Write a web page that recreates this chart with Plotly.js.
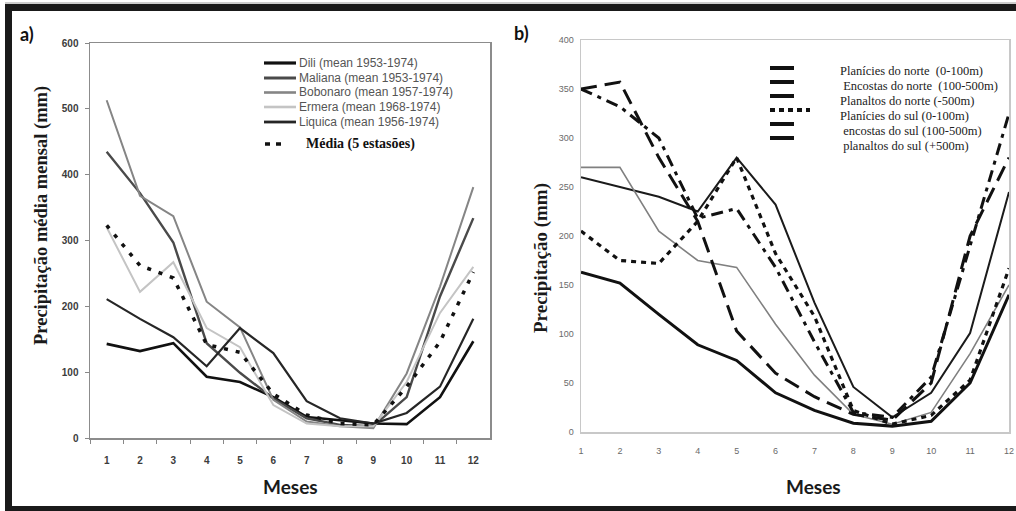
<!DOCTYPE html>
<html><head><meta charset="utf-8">
<script src="https://cdn.plot.ly/plotly-3.0.1.min.js"></script>
<style>html,body{margin:0;padding:0;background:#fff}#chart{width:1016px;height:511px}</style>
</head><body><div id="chart"></div>
<script>
// ---------- data ----------
const months = [1,2,3,4,5,6,7,8,9,10,11,12];
const monthLabels = months.map(String);

// panel a) – stations
const namesA = ["Dili (mean 1953-1974)","Maliana (mean 1953-1974)","Bobonaro (mean 1957-1974)","Ermera (mean 1968-1974)","Liquica (mean 1956-1974)","Média (5 estasões)"];
const dili     = [143, 132, 144,  93,  85,  62,  32,  27,  22,  21,  62, 147];
const maliana  = [435, 372, 297, 144,  99,  60,  30,  20,  18,  62, 215, 334];
const bobonaro = [513, 368, 337, 207, 168,  58,  25,  18,  15,  98, 230, 381];
const ermera   = [320, 222, 267, 167, 138,  50,  22,  18,  18,  85, 190, 260];
const liquica  = [211, 181, 153, 109, 167, 129,  56,  30,  22,  38,  78, 181];
const media    = [323, 262, 243, 142, 130,  67,  35,  22,  20,  78, 146, 252];

// panel b) – regions
const namesB = ["Planícies do norte  (0-100m)"," Encostas do norte  (100-500m)","Planaltos do norte (-500m)","Planícies do sul (0-100m)"," encostas do sul (100-500m)"," planaltos do sul (+500m)"];
const regA = [163, 152, 120,  89,  73,  40,  22,   9,   6,  11,  50, 140];
const regB = [260, 250, 240, 225, 280, 232, 132,  46,  15,  40, 101, 245];
const regC = [270, 270, 205, 175, 168, 110,  58,  18,   8,  20,  80, 150];
const regD = [205, 175, 172, 215, 280, 182, 118,  22,   8,  17,  53, 167];
const regE = [350, 357, 280, 215, 103,  60,  36,  18,  12,  50, 200, 280];
const regF = [350, 332, 300, 218, 228, 168,  92,  20,  15,  56, 190, 325];

// titles
const yTitleA = 'Precipitação média mensal (mm)';
const yTitleB = 'Precipitação (mm)';
const xTitle = 'Meses';

// ---------- helpers ----------
const W = 1016, H = 511;
const px = x => x / W;
const py = y => 1 - y / H;

const stylesA = [
  {color:'#111111', width:2.6},
  {color:'#4a4a4a', width:2.4},
  {color:'#858585', width:2},
  {color:'#c4c4c4', width:2},
  {color:'#262626', width:2.2},
  {color:'#111111', width:3.5, dash:'4px,8px'}
];
const seriesA = [dili, maliana, bobonaro, ermera, liquica, media];

const stylesB = [
  {color:'#111111', width:3},
  {color:'#1a1a1a', width:2},
  {color:'#808080', width:1.6},
  {color:'#111111', width:3.2, dash:'5px,5px'},
  {color:'#111111', width:3, dash:'16px,8px'},
  {color:'#111111', width:3, dash:'12px,6px,4px,6px'}
];
const seriesB = [regA, regB, regC, regD, regE, regF];

const traces = [];
seriesA.forEach((s,i)=>traces.push({x:monthLabels, y:s, type:'scatter', mode:'lines', name:namesA[i], line:stylesA[i], xaxis:'x', yaxis:'y', showlegend:false}));
seriesB.forEach((s,i)=>traces.push({x:months, y:s, type:'scatter', mode:'lines', name:namesB[i], line:stylesB[i], xaxis:'x2', yaxis:'y2', showlegend:false}));

// ---------- decorations ----------
const shapes = [
  {type:'rect', xref:'paper', yref:'paper', x0:px(5), x1:px(1016), y0:py(4), y1:py(11), fillcolor:'#1a1a1a', line:{width:0}},
  {type:'rect', xref:'paper', yref:'paper', x0:px(5), x1:px(12), y0:py(4), y1:py(511), fillcolor:'#1a1a1a', line:{width:0}},
  {type:'rect', xref:'paper', yref:'paper', x0:px(5), x1:px(1016), y0:py(506), y1:py(511), fillcolor:'#1a1a1a', line:{width:0}},
  {type:'line', xref:'paper', yref:'paper', x0:px(5), x1:px(1016), y0:py(3), y1:py(3), line:{color:'#9a9a9a', width:1}}
];
const titleFontSans = {family:'Lato, Liberation Sans', size:19, weight:'bold', color:'#1a1a1a'};
const annotations = [
  {text:'a)', xref:'paper', yref:'paper', x:px(18), y:py(34), xanchor:'left', yanchor:'middle', showarrow:false, font:{family:'Lato, Liberation Sans', size:18, weight:'bold', color:'#111'}},
  {text:'b)', xref:'paper', yref:'paper', x:px(512), y:py(33), xanchor:'left', yanchor:'middle', showarrow:false, font:{family:'Lato, Liberation Sans', size:18, weight:'bold', color:'#111'}},
  {text:xTitle, xref:'paper', yref:'paper', x:px(290), y:py(486), xanchor:'center', yanchor:'middle', showarrow:false, font:titleFontSans},
  {text:xTitle, xref:'paper', yref:'paper', x:px(813), y:py(486), xanchor:'center', yanchor:'middle', showarrow:false, font:titleFontSans},
  {text:yTitleA, xref:'paper', yref:'paper', x:px(41), y:py(216), xanchor:'center', yanchor:'middle', textangle:-90, showarrow:false, font:{family:'Liberation Serif', size:18.5, weight:'bold', color:'#1a1a1a'}},
  {text:yTitleB, xref:'paper', yref:'paper', x:px(541), y:py(258), xanchor:'center', yanchor:'middle', textangle:-90, showarrow:false, font:{family:'Liberation Serif', size:19, weight:'bold', color:'#1a1a1a'}}
];

// legend a)
const rowA = [63, 78, 92.5, 107, 122, 144];
namesA.forEach((n,i)=>{
  const st = stylesA[i];
  if(i < 5){
    shapes.push({type:'line', xref:'paper', yref:'paper', x0:px(264), x1:px(296), y0:py(rowA[i]), y1:py(rowA[i]), line:{color:st.color, width:st.width+0.6}});
    annotations.push({text:n, xref:'paper', yref:'paper', x:px(297), y:py(rowA[i]), xanchor:'left', yanchor:'middle', showarrow:false, font:{family:'Liberation Sans', size:12, color:'#555'}});
  } else {
    shapes.push({type:'line', xref:'paper', yref:'paper', x0:px(265), x1:px(284), y0:py(rowA[i]), y1:py(rowA[i]), line:{color:st.color, width:3.5, dash:'5px,6px'}});
    annotations.push({text:n, xref:'paper', yref:'paper', x:px(304), y:py(rowA[i]), xanchor:'left', yanchor:'middle', showarrow:false, font:{family:'Liberation Serif', size:14, weight:'bold', color:'#111'}});
  }
});

// legend b)
const barY = [68, 82, 96, 110, 124, 138];
const textY = [71, 86, 101, 116, 131, 146];
namesB.forEach((n,i)=>{
  const dotted = i === 3;
  shapes.push({type:'line', xref:'paper', yref:'paper', x0:px(770), x1:px(dotted ? 810 : 794), y0:py(barY[i]), y1:py(barY[i]), line:{color:'#111', width:4, dash: dotted ? '5px,4px' : 'solid'}});
  annotations.push({text:n, xref:'paper', yref:'paper', x:px(838), y:py(textY[i]), xanchor:'left', yanchor:'middle', showarrow:false, font:{family:'Liberation Serif', size:12.5, color:'#222'}});
});

const tickFontA = {family:'Liberation Sans', size:10, weight:'bold', color:'#3c3c3c'};
const tickFontB = {family:'Liberation Sans Narrow, Liberation Sans', size:9, color:'#6a6a6a'};

const layout = {
  width: W, height: H,
  margin: {l:0, r:0, t:0, b:0},
  paper_bgcolor:'#ffffff', plot_bgcolor:'#ffffff',
  showlegend:false,
  xaxis: {
    domain:[px(90), px(490)], type:'category', range:[-0.5, 11.5],
    tickson:'boundaries', ticks:'outside', ticklen:4, tickcolor:'#888', tickwidth:1,
    showline:true, mirror:true, linecolor:'#8c8c8c', linewidth:1.5, showgrid:false, zeroline:false,
    tickfont: tickFontA, ticklabelstandoff: 12
  },
  yaxis: {
    domain:[py(438), py(43)], range:[0, 600], dtick:100,
    ticks:'outside', ticklen:4, tickcolor:'#888', tickwidth:1,
    showline:true, mirror:true, linecolor:'#8c8c8c', linewidth:1.5, showgrid:false, zeroline:false,
    tickfont: tickFontA, ticklabelstandoff: 4
  },
  xaxis2: {
    domain:[px(581), px(1009)], range:[1, 12], dtick:1, anchor:'y2',
    ticks:'', showline:true, mirror:true, linecolor:'#c8c8c8', linewidth:1.5, showgrid:false, zeroline:false,
    tickfont: tickFontB, ticklabelstandoff: 10
  },
  yaxis2: {
    domain:[py(432), py(40)], range:[0, 400], dtick:50, anchor:'x2',
    ticks:'', showline:true, mirror:true, linecolor:'#c8c8c8', linewidth:1.5, showgrid:false, zeroline:false,
    tickfont: tickFontB, ticklabelstandoff: 4
  },
  shapes: shapes,
  annotations: annotations
};

Plotly.newPlot('chart', traces, layout, {staticPlot:true, displayModeBar:false});
</script>
</body></html>
